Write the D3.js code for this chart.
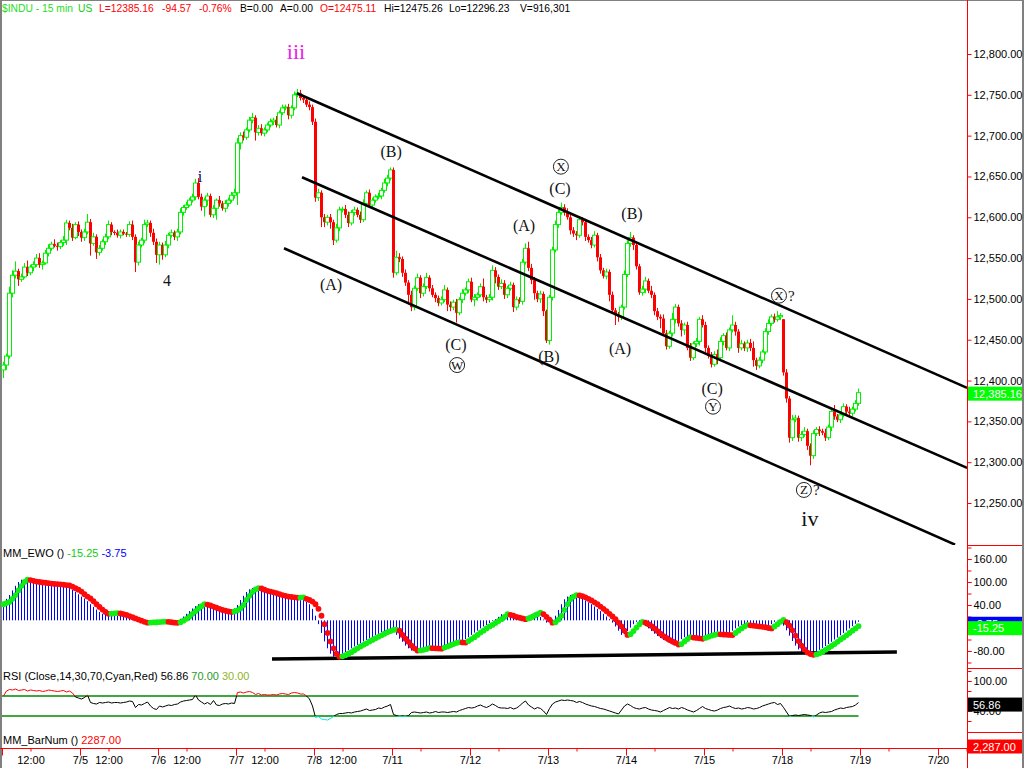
<!DOCTYPE html>
<html><head><meta charset="utf-8">
<script src="https://cdn.jsdelivr.net/npm/d3@7"></script>
<style>body{margin:0;background:#fff;}svg{display:block;font-family:"Liberation Sans",Arial,sans-serif;}</style>
</head><body><svg id="c" width="1024" height="768"></svg>
<script>
// ---------- DATA (15-min bars, 26 per session) ----------
const dayLabels = ["7/1","7/5","7/6","7/7","7/8","7/11","7/12","7/13","7/14","7/15","7/18","7/19","7/20"];
const noonLabel = "12:00";
const noonLabelDays = 5;
const barsPerDay = 26;

const closes = [
// 7/1
12419,12430,12507,12529,12534,12524,12527,12539,12532,12539,12542,12550,12542,12544,12556,12562,12567,12565,12564,12569,12572,12593,12587,12575,12591,12582,
// 7/5
12575,12582,12594,12568,12576,12557,12562,12570,12576,12591,12582,12581,12578,12582,12580,12579,12591,12576,12545,12566,12572,12591,12593,12581,12570,12554,
// 7/6
12566,12554,12566,12578,12581,12576,12582,12606,12612,12615,12621,12625,12642,12625,12613,12621,12626,12603,12611,12621,12617,12611,12617,12621,12627,12630,
// 7/7
12691,12700,12698,12707,12719,12722,12704,12709,12703,12707,12713,12717,12719,12713,12728,12734,12735,12725,12734,12750,12752,12746,12744,12738,12735,12717,
// 7/8
12624,12630,12600,12594,12600,12594,12572,12587,12609,12610,12603,12593,12606,12609,12603,12597,12617,12630,12615,12621,12625,12626,12633,12642,12648,12658,
// 7/11
12532,12551,12549,12532,12520,12505,12490,12513,12526,12507,12515,12526,12513,12505,12501,12495,12499,12511,12493,12490,12496,12483,12499,12507,12511,12521,
// 7/12
12499,12502,12505,12515,12502,12499,12502,12535,12527,12515,12519,12505,12513,12517,12490,12499,12497,12545,12562,12538,12523,12507,12500,12506,12485,12449,
// 7/13
12502,12560,12591,12606,12612,12606,12600,12584,12580,12578,12597,12594,12576,12572,12566,12578,12551,12535,12528,12533,12505,12486,12480,12478,12490,12530,
// 7/14
12568,12575,12566,12540,12508,12512,12522,12510,12505,12485,12478,12476,12458,12442,12458,12475,12490,12470,12462,12468,12440,12428,12445,12448,12475,12468,
// 7/15
12440,12430,12420,12432,12428,12448,12455,12440,12462,12468,12460,12440,12445,12440,12446,12440,12425,12418,12425,12435,12460,12470,12478,12475,12478,12479.73,
// 7/18
12410,12378,12330,12352,12354,12330,12334,12338,12320,12308,12335,12340,12338,12336,12330,12343,12362,12356,12352,12358,12368,12362,12360,12365,12372,12385.16
];
const openOverrideBars = [0, 260];
const openOverrideValues = [12413, 12475.11];

const wickHi = [
4,3,8,6,12,3,4,5,8,3,4,5,6,3,4,5,3,6,4,3,5,4,3,5,3,4,
3,4,10,4,5,3,4,3,4,5,3,2,4,3,3,2,4,5,3,4,3,6,4,3,5,4,
4,3,5,3,4,3,4,5,3,4,3,4,5,6,4,3,4,3,4,2,5,3,4,3,4,5,
6,4,5,3,4,6,3,4,5,3,3,4,3,5,3,4,3,4,3,4,5,4,3,2,4,3,
4,5,3,4,3,4,3,5,4,3,5,4,3,4,3,4,5,3,4,3,3,4,3,5,4,3,
3,8,5,3,4,3,5,3,5,3,4,6,3,4,3,3,4,6,3,4,3,4,3,5,3,4,
5,4,3,4,10,3,4,6,4,3,5,4,3,4,3,4,3,4,6,8,5,4,3,4,3,2,
3,4,5,3,6,4,5,3,4,3,4,3,4,3,4,5,3,4,3,4,3,4,3,4,3,5,
4,7,3,4,3,4,5,3,6,3,4,3,5,4,3,8,4,3,4,3,4,6,3,4,3,5,
4,3,5,4,6,5,3,4,3,12,4,3,5,3,4,5,8,3,4,3,4,5,3,4,7,3,
0.15,4,3,6,4,3,4,5,3,3,4,3,4,3,5,3,4,8,3,4,4,3,6,3,4,5
];
const wickLo = [
10,6,3,5,4,8,3,2,4,3,5,3,4,6,2,4,3,2,5,3,4,6,3,4,2,5,
5,4,3,15,3,8,4,3,4,3,4,3,3,4,2,3,3,4,12,4,3,4,3,5,4,10,
12,6,3,4,3,4,5,3,4,3,2,3,4,3,5,12,7,3,4,14,4,3,5,4,3,4,
15,8,4,3,3,4,10,4,3,4,3,3,4,3,4,3,3,5,4,3,3,3,4,3,4,4,
5,4,12,6,4,8,6,3,4,3,4,5,3,4,3,4,3,4,3,4,3,3,4,3,4,3,
6,3,4,5,4,12,5,4,3,6,4,3,4,3,5,4,3,3,8,5,4,12,3,4,3,4,
3,8,4,3,5,4,3,4,8,4,3,5,4,3,6,4,3,4,3,4,5,8,4,5,6,3,
5,4,3,4,3,4,3,5,4,6,3,4,5,3,4,3,5,4,3,4,8,4,12,6,4,3,
3,4,6,4,3,4,5,3,4,5,4,12,3,4,3,4,5,4,8,6,3,4,3,4,5,3,
5,3,4,3,8,4,5,3,4,3,5,6,3,4,5,4,8,5,3,4,3,4,3,4,3,4,
4,5,6,4,3,5,4,3,5,11.77,4,3,6,3,4,3,5,4,3,4,3,4,5,4,3,3
];

// MM_EWO signal dots
const ewoSignal = [
42,45,48,56,66,78,90,100,106,
105,103,101,100,99,98,97,96,95,94.5,94,93,92,91,88,84,80,75,68,62,57,50,42,35,28,22,17,
17.5,18,19,
18,16,14,11,8,5,2,-1,-4,-6,
-5.8,-5.5,-5,-4.5,-4,-3.5,
-4,-5,-6,-6.5,
-5,-1,4,10,17,24,31,37,42,
41,39,36,33,30,27,25,23,22,
23,26,31,40,53,64,74,81,84,
83,80,77,75,73,71,68,66,64,62,61,60,59,
59.5,60,
56,53,49,42,30,12,-10,-33,-55,-73,-87,-95,
-94,-91,-87,-83,-78,-73,-68,-64,-60,-55,-51,-47,-43,-39,-35,-31,-28,-25,-24,
-27,-38,-48,-56,-66,-73,-79,
-78.5,-77,-75,-72,
-72.5,-73,-73.5,-74,
-71,-68,-65,-62,-59,-57,
-57.5,-58,
-54,-49,-44,-38,-32,-27,-21,-16,-12,-7,-2,3,9,16,
14,12,9,7,5,3,
5,8,12,16,20,
16,9,2,-6,
-5,2,12,27,42,55,62,66,
65,63,60,56,52,47,42,36,30,24,17,10,3,-6,-16,-27,-38,
-36,-28,-19,-10,-4,
-6,-10,-15,-21,-28,-35,-41,-46,-51,-55,-59,-63,
-62,-55,-49,-44,
-45,-46,-47,-48,
-46,-43,-40,-38,-36,
-36.5,-37,-37.5,-38,-38.5,
-33,-27,-21,-16,-12,
-13,-14,-15,-16,-17,-18,-20,-21,
-16,-10,-4,1,
-5,-14,-26,-40,-54,-66,-76,-84,-88,-90,
-89,-86,-82,-77,-72,-67,-62,-56,-50,-45,-39,-33,-27,-21,-15.25
];
// MM_EWO histogram
const ewo = [
48,56,66,78,90,100,106,
105,103,101,100,99,98,97,96,95,94.5,94,93,92,91,88,84,80,75,68,62,57,50,42,35,28,22,17,
17.5,18,19,
18,16,14,11,8,5,2,-1,-4,-6,
-5.8,-5.5,-5,-4.5,-4,-3.5,
-4,-5,-6,-6.5,
-5,-1,4,10,17,24,31,37,42,
41,39,36,33,30,27,25,23,22,
23,26,31,40,53,64,74,81,84,
83,80,77,75,73,71,68,66,64,62,61,60,59,
59.5,60,
56,53,49,42,30,12,-10,-33,-55,-73,-87,-95,
-94,-91,-87,-83,-78,-73,-68,-64,-60,-55,-51,-47,-43,-39,-35,-31,-28,-25,-24,
-27,-38,-48,-56,-66,-73,-79,
-78.5,-77,-75,-72,
-72.5,-73,-73.5,-74,
-71,-68,-65,-62,-59,-57,
-57.5,-58,
-54,-49,-44,-38,-32,-27,-21,-16,-12,-7,-2,3,9,16,
14,12,9,7,5,3,
5,8,12,16,20,
16,9,2,-6,
-5,2,12,27,42,55,62,66,
65,63,60,56,52,47,42,36,30,24,17,10,3,-6,-16,-27,-38,
-36,-28,-19,-10,-4,
-6,-10,-15,-21,-28,-35,-41,-46,-51,-55,-59,-63,
-62,-55,-49,-44,
-45,-46,-47,-48,
-46,-43,-40,-38,-36,
-36.5,-37,-37.5,-38,-38.5,
-33,-27,-21,-16,-12,
-13,-14,-15,-16,-17,-18,-20,-21,
-16,-10,-4,1,
-5,-14,-26,-40,-54,-66,-76,-84,-88,-90,
-89,-86,-82,-77,-72,-67,-62,-56,-50,-45,-39,-33,-27,-21,-15.25,
-9,-3.75
];
// RSI(14)
const rsi = [
70,80,83,82,84,81,82,83,80,82,81,80,81,79,80,82,81,80,79,80,81,78,80,76,68,66,
64,67,72,57,55,54,57,56,57,58,56,57,57,56,57,58,60,59,47,53,52,55,58,50,45,43,
50,48,50,52,51,53,54,58,60,61,62,63,72,62,58,54,57,53,61,52,51,54,55,54,56,55,
77,78,76,78,79,77,73,75,72,73,72,72,73,72,74,75,74,73,76,77,76,74,74,70,64,50,
27,29,24,23,22,25,29,33,35,35,36,37,36,38,39,40,42,44,41,42,43,46,45,48,50,53,
33,31,29,30,29,31,37,38,37,36,37,38,36,37,39,37,38,38,37,38,39,38,41,43,45,47,
46,47,50,52,49,47,50,54,51,47,46,46,45,47,44,46,50,56,60,52,48,44,47,45,40,33,
45,54,58,60,62,61,62,61,60,57,59,57,54,52,50,49,47,45,44,42,40,38,36,34,42,50,
54,51,47,45,44,46,47,44,42,41,40,38,41,44,47,45,46,44,47,45,42,40,38,41,45,49,
45,43,41,40,42,45,47,48,50,47,45,46,44,45,47,46,44,45,47,50,52,54,56,57,53,55,
47,38,29,31,32,31,32,33,32,31,28,32,36,38,37,38,39,42,44,46,45,47,48,49,52,56.86
];
const rsiUpper = 70, rsiLower = 30;

const priceTicks = [12250,12300,12350,12400,12450,12500,12550,12600,12650,12700,12750,12800];
const ewoTicks = [160,100,40,-20,-80];
const rsiTicks = [100,40];
const lastPrice = 12385.16, lastEwo = -15.25, lastEwoHist = -3.75, lastRsi = 56.86, barNum = 2287;

const headerTexts = ["$INDU - 15 min","US","L=12385.16","-94.57","-0.76%","B=0.00","A=0.00","O=12475.11","Hi=12475.26","Lo=12296.23","V=916,301"];
const headerColors = ["#1edc1e","#11cc11","#ff0000","#ff0000","#ff0000","#000","#000","#ff0000","#000","#000","#000"];

// trendlines in data space [bar, value]
const channelLines = [
  [[97.8,12752],[321.2,12391]],
  [[99.5,12649],[321.2,12293]],
  [[93.5,12562],[317.2,12199]]
];
const ewoTrendline = [[89.5,-101],[297.8,-82.7]];

// Elliott wave labels [text, bar, price, circled]
const waveText   = ["iii","i","4","(A)","(B)","(C)","W","(A)","X","(C)","(B)","(B)","(A)","(C)","Y","X","Z","iv"];
const waveBar    = [97.5,65.5,54.5,109.2,129.2,150.8,151.2,173.5,185.8,185.5,181.8,209.5,205.5,236.2,236.5,258.5,266.8,268.8];
const wavePrice  = [12801,12649,12522,12517,12680,12444,12419,12589,12662,12635,12429,12604,12439,12390,12368,12504,12266,12229];
const waveCircle = [0,0,0,0,0,0,1,0,1,0,0,0,0,0,1,1,1,0];
const waveQuery  = [0,0,0,0,0,0,0,0,0,0,0,0,0,0,0,1,1,0];

// ---------- DRAW ----------
const loc = d3.formatLocale({decimal:".",thousands:",",grouping:[3],currency:["$",""],minus:"-"});
const fmt = loc.format(",.2f");
const N = closes.length;
const opens = closes.map((c,i)=> i===0 ? c : closes[i-1]);
openOverrideBars.forEach((b,k)=>{opens[b]=openOverrideValues[k];});
const highs = closes.map((c,i)=>Math.max(opens[i],c)+wickHi[i]);
const lows  = closes.map((c,i)=>Math.min(opens[i],c)-wickLo[i]);

const x  = d3.scaleLinear().domain([0,286]).range([3.5,861.5]);
const yP = d3.scaleLinear().domain([12250,12800]).range([503,54]);
const yE = d3.scaleLinear().domain([-80,160]).range([651,559]);
const yR = d3.scaleLinear().domain([0,100]).range([731,681]);

const GREEN="#00f000", RED="#ff0000";
const svg = d3.select("#c");
svg.append("rect").attr("width",1024).attr("height",768).attr("fill","#fff");
const defs = svg.append("defs");
function clip(id,x0,y0,w,h){defs.append("clipPath").attr("id",id).append("rect").attr("x",x0).attr("y",y0).attr("width",w).attr("height",h);}
clip("cMain",0,0,967,545); clip("cEwo",0,545,967,123);
clip("rHi",0,660,967,yR(rsiUpper)-660); clip("rMid",0,yR(rsiUpper),967,yR(rsiLower)-yR(rsiUpper)); clip("rLo",0,yR(rsiLower),967,740-yR(rsiLower));

// borders
svg.append("rect").attr("x",0).attr("y",0).attr("width",2).attr("height",768).attr("fill","#808080");
svg.append("rect").attr("x",0).attr("y",0).attr("width",1024).attr("height",1).attr("fill","#808080");
svg.append("rect").attr("x",1022).attr("y",0).attr("width",2).attr("height",768).attr("fill","#808080");

// header
const hx = [2,78,99,162,199,240,280,320,384,449,520];
svg.append("g").selectAll("text").data(headerTexts).join("text")
  .attr("x",(d,i)=>hx[i]).attr("y",12).attr("fill",(d,i)=>headerColors[i])
  .style("font-size","10.3px").text(d=>d);

// candles
const gC = svg.append("g").attr("clip-path","url(#cMain)");
const bars = d3.range(N);
gC.selectAll("g.cd").data(bars).join("g").attr("class","cd").each(function(i){
  const g=d3.select(this), o=opens[i], c=closes[i], up=c>=o, cx=x(i);
  const yt=yP(Math.max(o,c)), yb=yP(Math.min(o,c));
  const col = up?GREEN:RED;
  if(up){
    g.append("line").attr("x1",cx).attr("x2",cx).attr("y1",yP(highs[i])).attr("y2",yt).attr("stroke",col);
    g.append("line").attr("x1",cx).attr("x2",cx).attr("y1",yb).attr("y2",yP(lows[i])).attr("stroke",col);
    g.append("rect").attr("x",cx-2).attr("y",yt).attr("width",4).attr("height",Math.max(yb-yt,0.6)).attr("fill","none").attr("stroke",col);
  } else {
    g.append("line").attr("x1",cx).attr("x2",cx).attr("y1",yP(highs[i])).attr("y2",yP(lows[i])).attr("stroke",col);
    g.append("rect").attr("x",cx-1.5).attr("y",yt).attr("width",3).attr("height",Math.max(yb-yt,1)).attr("fill",col);
  }
});

// channel lines
gC.selectAll("line.ch").data(channelLines).join("line").attr("class","ch")
  .attr("x1",d=>x(d[0][0])).attr("y1",d=>yP(d[0][1])).attr("x2",d=>x(d[1][0])).attr("y2",d=>yP(d[1][1]))
  .attr("stroke","#000").attr("stroke-width",2.6);

// wave labels
const gW = svg.append("g").style("font-family","'Liberation Serif','Times New Roman',serif");
waveText.forEach((t,i)=>{
  const cx=x(waveBar[i]), cy=yP(wavePrice[i]);
  if(waveCircle[i]){
    gW.append("circle").attr("cx",cx).attr("cy",cy).attr("r",7.5).attr("fill","none").attr("stroke","#222").attr("stroke-width",1);
    gW.append("text").attr("x",cx).attr("y",cy+4.5).attr("text-anchor","middle").style("font-size","13px").attr("fill","#111").text(t);
    if(waveQuery[i]) gW.append("text").attr("x",cx+9).attr("y",cy+5).style("font-size","15px").attr("fill","#111").text("?");
  } else {
    const big = (t==="iii"||t==="iv");
    gW.append("text").attr("x",cx).attr("y",cy+(big?6:5)).attr("text-anchor","middle")
      .style("font-size",big?"22px":"16px")
      .attr("fill", t==="iii" ? "#e81ee8" : (t==="i" ? "#000060" : "#111")).text(t);
  }
});

// ---------- EWO panel ----------
const gE = svg.append("g").attr("clip-path","url(#cEwo)");
gE.selectAll("line.h").data(ewo).join("line").attr("class","h")
  .attr("x1",(d,i)=>x(i)).attr("x2",(d,i)=>x(i)).attr("y1",yE(0)).attr("y2",d=>yE(d))
  .attr("stroke","#0000ff").attr("stroke-width",1);
gE.append("line").attr("x1",x(ewoTrendline[0][0])).attr("y1",yE(ewoTrendline[0][1]))
  .attr("x2",x(ewoTrendline[1][0])).attr("y2",yE(ewoTrendline[1][1])).attr("stroke","#000").attr("stroke-width",3.5);
gE.selectAll("circle").data(ewoSignal).join("circle")
  .attr("cx",(d,i)=>x(i)).attr("cy",d=>yE(d)).attr("r",2.9)
  .attr("fill",(d,i)=> (i===0||d>=ewoSignal[i-1]) ? "#11ee11" : "#ff0a0a");

// panel titles
function title(y, parts){
  const t = svg.append("text").attr("x",3).attr("y",y).style("font-size","11px");
  parts.forEach(p=>t.append("tspan").attr("fill",p[1]).text(p[0]));
}
title(557,[["MM_EWO ()  ","#000"],[" "+lastEwo.toFixed(2)+"   ","#11cc11"],[lastEwoHist.toFixed(2),"#0000ff"]]);
title(680,[["RSI (Close,14,30,70,Cyan,Red)    ","#000"],[lastRsi.toFixed(2)+"   ","#000"],[rsiUpper.toFixed(2)+"   ","#2a9a2a"],[rsiLower.toFixed(2),"#8fb52a"]]);
title(744,[["MM_BarNum ()   ","#000"],[barNum.toFixed(2),"#ff0000"]]);

// ---------- RSI panel ----------
const rsiEnd = x(N-1);
svg.selectAll("line.rl").data([rsiUpper,rsiLower]).join("line").attr("class","rl")
  .attr("x1",2).attr("x2",rsiEnd).attr("y1",d=>yR(d)).attr("y2",d=>yR(d)).attr("stroke","#008a00").attr("stroke-width",1.5);
const rl = d3.line().x((d,i)=>x(i)).y(d=>yR(d));
[["rHi","#ff0000"],["rMid","#000"],["rLo","#00e5e5"]].forEach(([c,col])=>{
  svg.append("path").attr("d",rl(rsi)).attr("fill","none").attr("stroke",col).attr("stroke-width",1).attr("clip-path",`url(#${c})`);
});

// ---------- right axes ----------
svg.append("line").attr("x1",967.5).attr("x2",967.5).attr("y1",0).attr("y2",768).attr("stroke","#ff0000");
[545.5,668.5,732.5].forEach(y=>svg.append("line").attr("x1",967).attr("x2",1022).attr("y1",y).attr("y2",y).attr("stroke","#ff0000"));
function styleAxis(g){g.select(".domain").remove();g.selectAll("line").attr("stroke","#ff0000");g.selectAll("text").attr("fill","#000").style("font-size","11px").style("font-family","'Liberation Sans',Arial,sans-serif");}
svg.append("g").attr("transform","translate(967.5,0)").call(d3.axisRight(yP).tickValues(priceTicks).tickFormat(fmt).tickSize(4).tickPadding(2)).call(styleAxis);
svg.append("g").attr("transform","translate(967.5,0)").call(d3.axisRight(yE).tickValues(d3.range(-110,191,30)).tickFormat("").tickSize(4)).call(styleAxis);
svg.append("g").attr("transform","translate(967.5,0)").call(d3.axisRight(yE).tickValues(ewoTicks).tickFormat(fmt).tickSize(4).tickPadding(2)).call(styleAxis);
svg.append("g").attr("transform","translate(967.5,0)").call(d3.axisRight(yR).tickValues([120,100,80,60,40,20]).tickFormat("").tickSize(4)).call(styleAxis);
svg.append("g").attr("transform","translate(967.5,0)").call(d3.axisRight(yR).tickValues(rsiTicks).tickFormat(fmt).tickSize(4).tickPadding(2)).call(styleAxis);

function valueBox(yc, fill, txt){
  svg.append("rect").attr("x",968).attr("y",yc-7).attr("width",54).attr("height",14).attr("fill",fill);
  svg.append("text").attr("x",973).attr("y",yc+4).attr("fill","#fff").style("font-size","11px").text(txt);
}
valueBox(yP(lastPrice)+1,"#00ff00",fmt(lastPrice));
valueBox(yE(lastEwoHist)+2,"#0000ff",fmt(lastEwoHist));
valueBox(yE(lastEwo)+2,"#00ff00",fmt(lastEwo));
valueBox(yR(lastRsi)+2,"#000000",fmt(lastRsi));
valueBox(746.5,"#ff0000",fmt(barNum));

// ---------- bottom time axis ----------
svg.append("line").attr("x1",0).attr("x2",967).attr("y1",748.5).attr("y2",748.5).attr("stroke","#ff0000");
const dayBars = dayLabels.map((d,k)=>k*barsPerDay-0.5);
const noonBars = dayLabels.map((d,k)=>k*barsPerDay+9);
const axD = svg.append("g").attr("transform","translate(0,748.5)")
  .call(d3.axisBottom(x).tickValues(dayBars).tickFormat((d,i)=> i===0?"":dayLabels[i]).tickSize(7)).call(styleAxis);
axD.selectAll("text").attr("y",8);
const axN = svg.append("g").attr("transform","translate(0,748.5)")
  .call(d3.axisBottom(x).tickValues(noonBars).tickFormat((d,i)=> i<noonLabelDays?noonLabel:"").tickSize(3)).call(styleAxis);
axN.selectAll("text").attr("y",8);
</script>
</body></html>
